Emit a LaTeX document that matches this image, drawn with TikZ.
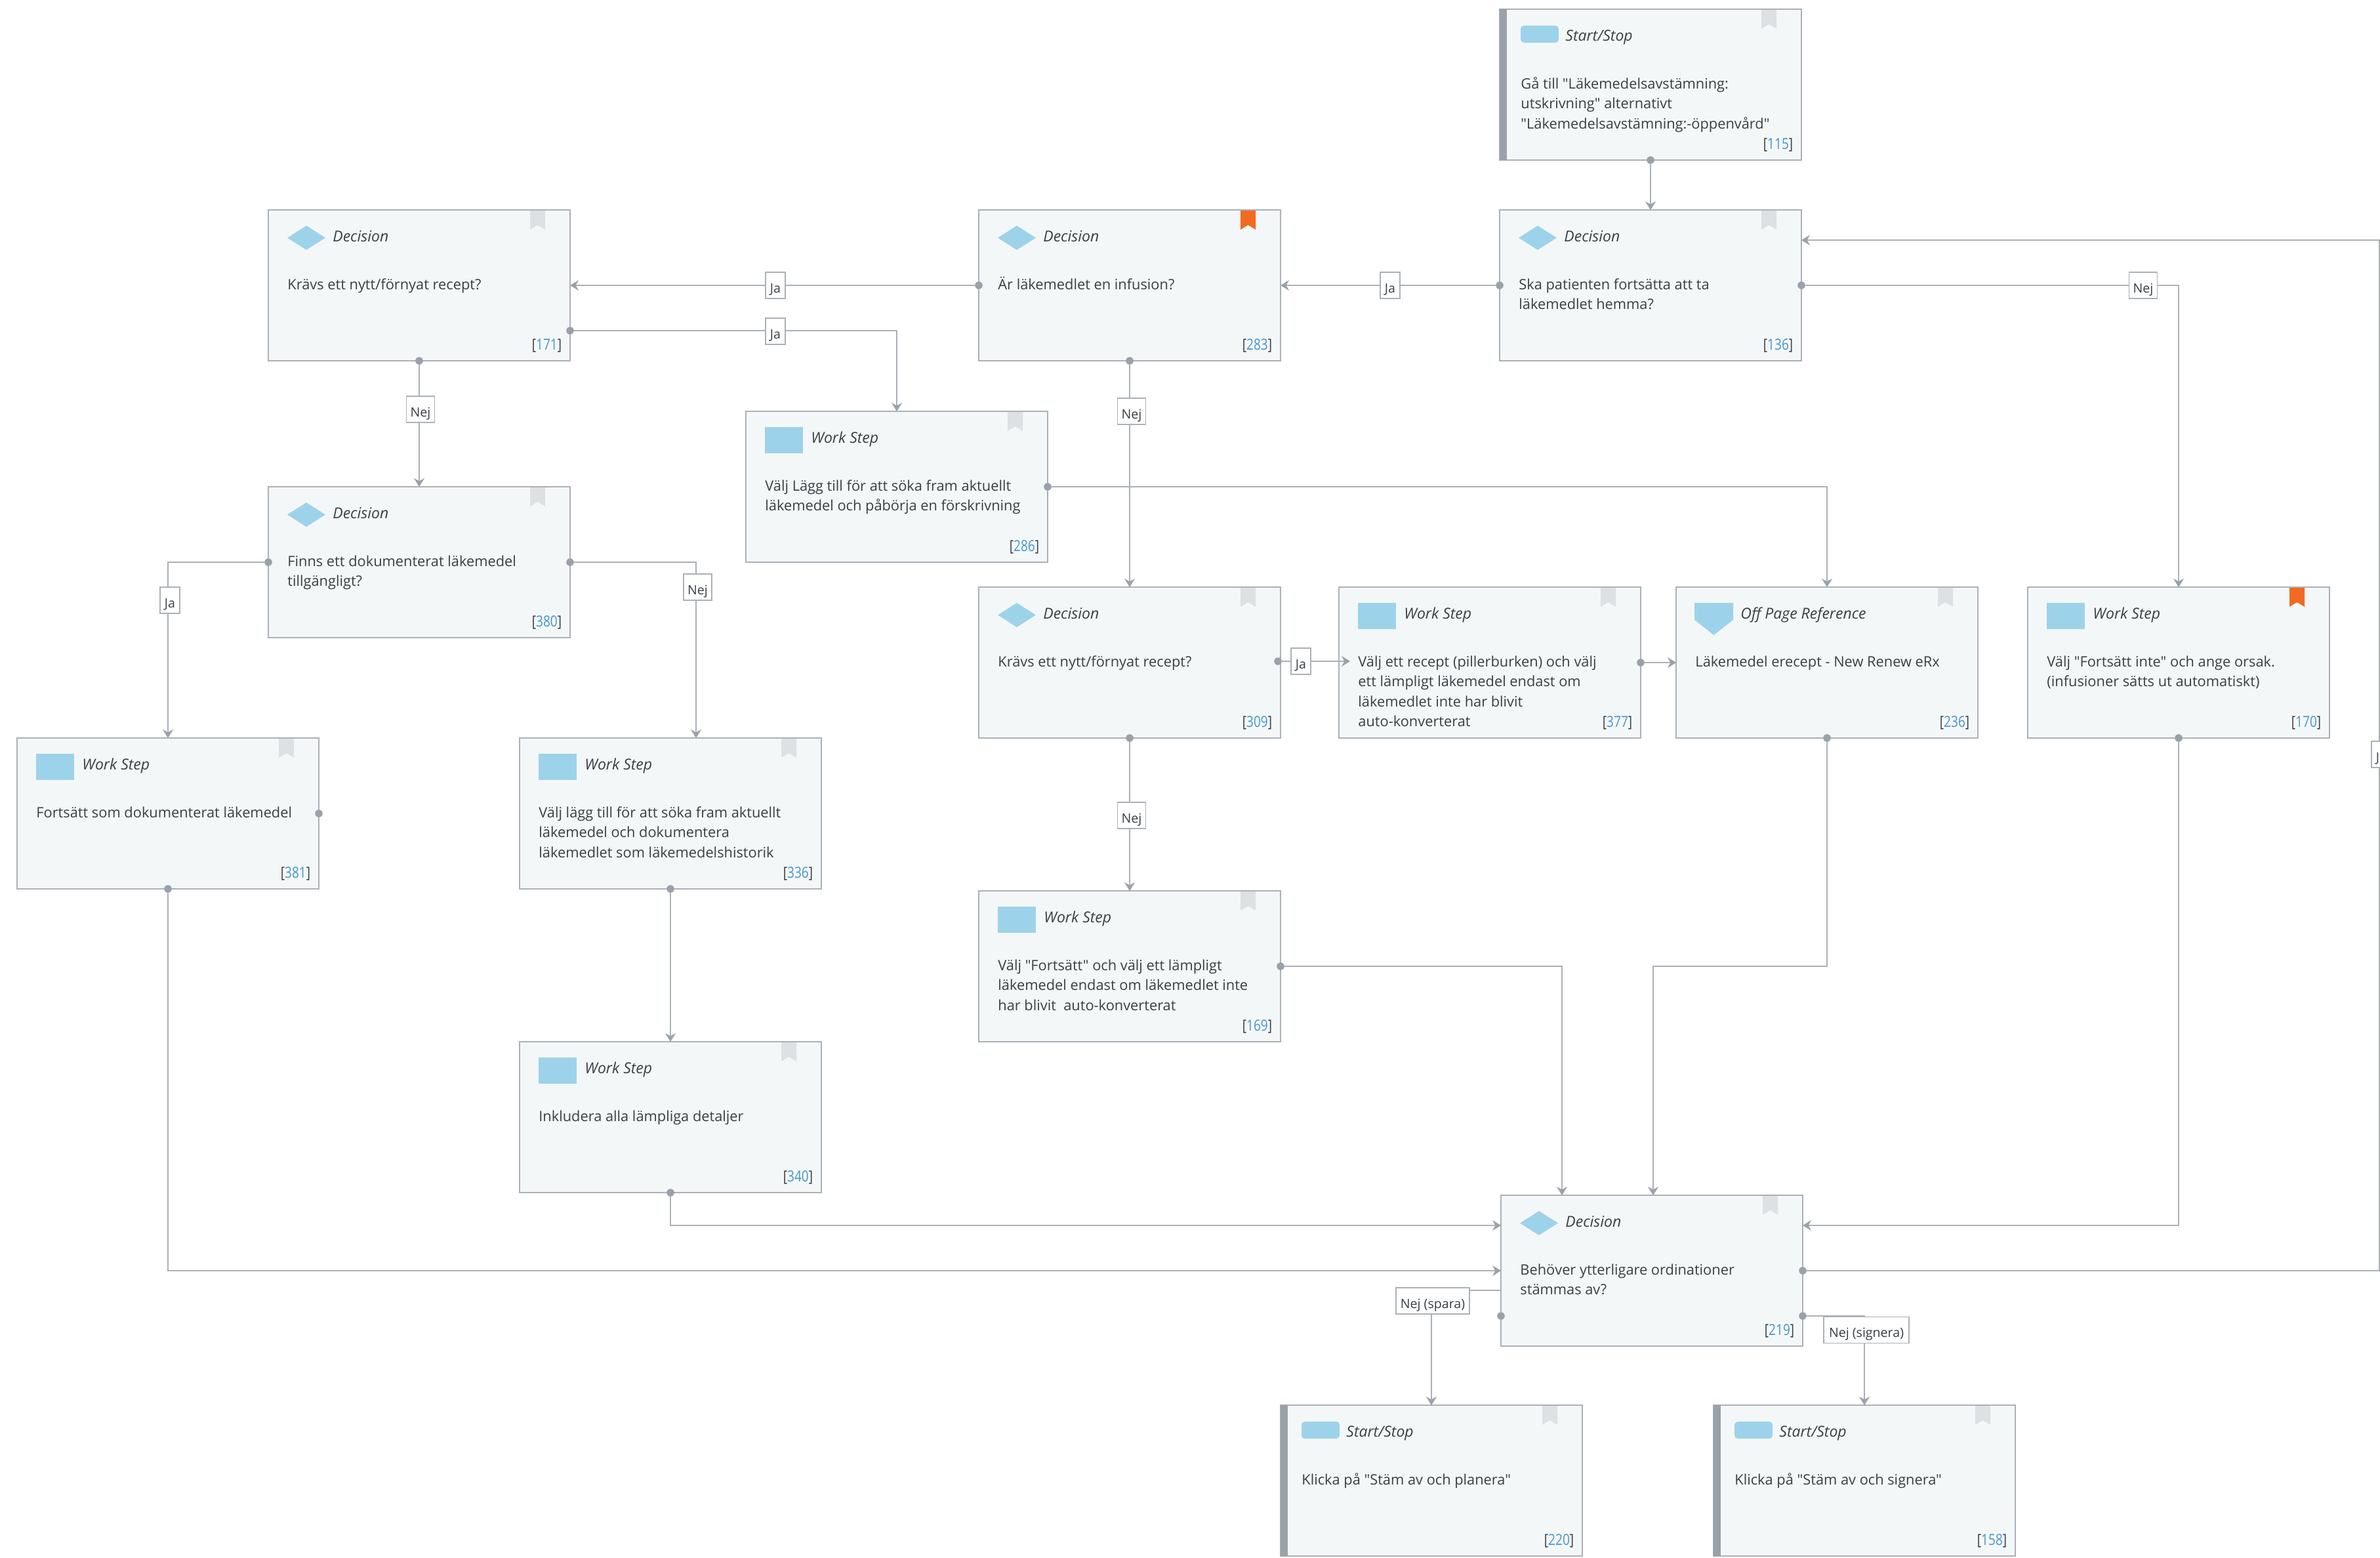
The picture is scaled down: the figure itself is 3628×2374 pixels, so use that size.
\documentclass[tikz,border=0pt]{standalone}
\usepackage{fontspec}
\setmainfont{Open Sans}[Ligatures=TeXOff]
\newfontfamily\idfont{Open Sans}[Ligatures=TeXOff,FakeStretch=0.82]
\usetikzlibrary{arrows.meta}
\definecolor{boxfill}{HTML}{F4F7F8}
\definecolor{edgec}{HTML}{ABB1B7}
\definecolor{dotc}{HTML}{9BA1A8}
\definecolor{iconc}{HTML}{9DD3EA}
\definecolor{markoff}{HTML}{DDE1E4}
\definecolor{markon}{HTML}{F26A21}
\definecolor{inkc}{HTML}{3A3F44}
\definecolor{idc}{HTML}{4596CC}
\tikzset{
  x=0.5pt,y=-0.5pt,
  procbox/.style={draw=edgec,line width=1pt,fill=boxfill,anchor=north west,inner sep=0pt,outer sep=0pt,minimum width=230pt,minimum height=115pt},
  icon/.style={fill=iconc,draw=none},
  startbar/.style={fill=dotc,draw=none},
  headtxt/.style={anchor=base west,inner sep=0pt,text=inkc,font=\fontsize{11.5pt}{13pt}\selectfont\itshape},
  bodytxt/.style={anchor=base west,inner sep=0pt,text=inkc,font=\fontsize{10.9pt}{15.25pt}\selectfont},
  idtxt/.style={anchor=base east,inner sep=0pt,text=inkc,font=\idfont\fontsize{11.6pt}{13pt}\selectfont},
  conn/.style={draw=edgec,line width=1pt,-{Stealth[length=6.5pt,width=8pt,inset=2.2pt,color=dotc]}},
  dotn/.style={circle,fill=dotc,inner sep=0pt,outer sep=0pt,minimum size=5.8pt},
  lab/.style={draw=edgec,line width=0.8pt,fill=white,inner sep=0pt,outer sep=0pt,text=inkc,font=\fontsize{9.8pt}{12pt}\selectfont,minimum height=20pt,text height=15.5pt,text depth=4.5pt},
  labj/.style={lab,minimum width=15pt},
  labn/.style={lab,minimum width=21.5pt},
}
\newcommand\iconDec{\def\lblx{98}\def\bodyx{29}\fill[icon] (29,42.5) -- (58,24) -- (87,42.5) -- (58,61) -- cycle;}
\newcommand\iconWrk{\def\lblx{99}\def\bodyx{29}\fill[icon] (29,24) rectangle (87,64);}
\newcommand\iconSta{\def\lblx{100}\def\bodyx{32}\fill[startbar] (0,0) rectangle (11,230);\fill[icon,rounded corners=2.5pt] (32,25) rectangle (90,51);}
\newcommand\iconOff{\def\lblx{98}\def\bodyx{29}\fill[icon] (28,24) -- (87,24) -- (87,50) -- (57.5,73) -- (28,50) -- cycle;}
% name, x, y, icon, kind, body, id, bookmark colour
\newcommand\wfbox[8]{%
  \begin{scope}[shift={(#2,#3)}]
    \node[procbox] (#1) at (0,0) {};
    #4
    \fill[#8] (399,1) -- (422,1) -- (422,30) -- (410.5,23) -- (399,30) -- cycle;
    \node[headtxt] (#1h) at (\lblx,48) {#5};
    \node[bodytxt] (#1b) at (\bodyx,121) {\parbox[t]{415pt}{\raggedright #6}};
    \node[idtxt] (#1i) at (447.5,213) {[\textcolor{idc}{#7}]};
  \end{scope}}
\begin{document}
\begin{tikzpicture}
\path[use as bounding box,clip] (0,0) rectangle (3628,2374);
\fill[white] (0,0) rectangle (3628,2374);
\wfbox{n115}{2286}{14}{\iconSta}{Start/Stop}{Gå till "Läkemedelsavstämning:\\utskrivning" alternativt\\"Läkemedelsavstämning:-öppenvård"}{115}{markoff}
\wfbox{n136}{2286}{320}{\iconDec}{Decision}{Ska patienten fortsätta att ta\\läkemedlet hemma?}{136}{markoff}
\wfbox{n283}{1492}{320}{\iconDec}{Decision}{Är läkemedlet en infusion?}{283}{markon}
\wfbox{n171}{409}{320}{\iconDec}{Decision}{Krävs ett nytt/förnyat recept?}{171}{markoff}
\wfbox{n286}{1137}{627}{\iconWrk}{Work Step}{Välj Lägg till för att söka fram aktuellt\\läkemedel och påbörja en förskrivning}{286}{markoff}
\wfbox{n380}{409}{742}{\iconDec}{Decision}{Finns ett dokumenterat läkemedel\\tillgängligt?}{380}{markoff}
\wfbox{n309}{1492}{895}{\iconDec}{Decision}{Krävs ett nytt/förnyat recept?}{309}{markoff}
\wfbox{n377}{2041}{895}{\iconWrk}{Work Step}{Välj ett recept (pillerburken) och välj\\ett lämpligt läkemedel endast om\\läkemedlet inte har blivit\\auto-konverterat}{377}{markoff}
\wfbox{n236}{2555}{895}{\iconOff}{Off Page Reference}{Läkemedel erecept - New Renew eRx}{236}{markoff}
\wfbox{n170}{3091}{895}{\iconWrk}{Work Step}{Välj "Fortsätt inte" och ange orsak.\\(infusioner sätts ut automatiskt)}{170}{markon}
\wfbox{n381}{26}{1125}{\iconWrk}{Work Step}{Fortsätt som dokumenterat läkemedel}{381}{markoff}
\wfbox{n336}{792}{1125}{\iconWrk}{Work Step}{Välj lägg till för att söka fram aktuellt\\läkemedel och dokumentera\\läkemedlet som läkemedelshistorik}{336}{markoff}
\wfbox{n169}{1492}{1358}{\iconWrk}{Work Step}{Välj "Fortsätt" och välj ett lämpligt\\läkemedel endast om läkemedlet inte\\har blivit\ \ auto-konverterat}{169}{markoff}
\wfbox{n340}{792}{1588}{\iconWrk}{Work Step}{Inkludera alla lämpliga detaljer}{340}{markoff}
\wfbox{n219}{2288}{1822}{\iconDec}{Decision}{Behöver ytterligare ordinationer\\stämmas av?}{219}{markoff}
\wfbox{n220}{1952}{2142}{\iconSta}{Start/Stop}{Klicka på "Stäm av och planera"}{220}{markoff}
\wfbox{n158}{2612}{2142}{\iconSta}{Start/Stop}{Klicka på "Stäm av och signera"}{158}{markoff}
% free ends and bends
\coordinate (in336) at (1061,1125);
\coordinate (in377) at (2058,1008);
\coordinate (a219) at (2288,1868);
\coordinate (b219) at (2381,1822);
\coordinate (c219) at (2520,1822);
\coordinate (bend236) at (2520,1473);
\coordinate (r219) at (2748,1868);
\coordinate (out1) at (3627,1937);
\coordinate (out2) at (3627,366);
\coordinate (r136) at (2746,366);
\coordinate (sp1) at (2288,1967);
\coordinate (sp2) at (2182,1967);
\coordinate (si1) at (2842,2006);
% output dots
\node[dotn] (d115) at (n115.south) {};
\node[dotn] (d136l) at (n136.west) {};
\node[dotn] (d136r) at (n136.east) {};
\node[dotn] (d283l) at (n283.west) {};
\node[dotn] (d283b) at (n283.south) {};
\node[dotn] (d171r) at (869,504) {};
\node[dotn] (d171b) at (n171.south) {};
\node[dotn] (d286) at (n286.east) {};
\node[dotn] (d380l) at (n380.west) {};
\node[dotn] (d380r) at (n380.east) {};
\node[dotn] (d309r) at (1948,1008) {};
\node[dotn] (d309b) at (n309.south) {};
\node[dotn] (d377) at (n377.east) {};
\node[dotn] (d236) at (n236.south) {};
\node[dotn] (d170) at (n170.south) {};
\node[dotn] (d381r) at (n381.east) {};
\node[dotn] (d381b) at (n381.south) {};
\node[dotn] (d336) at (n336.south) {};
\node[dotn] (d340) at (n340.south) {};
\node[dotn] (d169) at (n169.east) {};
\node[dotn] (d219r) at (n219.east) {};
\node[dotn] (d219l) at (2288,2006) {};
\node[dotn] (d219s) at (2748,2006) {};
% connectors
\draw[conn] (d115) -- (n136.north);
\draw[conn] (d136l) -- (n283.east);
\draw[conn] (d283l) -- (n171.east);
\draw[conn] (d171r) -| (n286.north);
\draw[conn] (d283b) -- (n309.north);
\draw[conn] (d286) -| (n236.north);
\draw[conn] (d136r) -| (n170.north);
\draw[conn] (d171b) -- (n380.north);
\draw[conn] (d380l) -| (n381.north);
\draw[conn] (d380r) -| (in336);
\draw[conn] (d381b) |- (n219.west);
\draw[conn] (d336) -- (n340.north);
\draw[conn] (d340) |- (a219);
\draw[conn] (d309r) -- (in377);
\draw[conn] (d377) -- (n236.west);
\draw[conn] (d309b) -- (n169.north);
\draw[conn] (d169) -| (b219);
\draw[conn] (d236) |- (bend236) -- (c219);
\draw[conn] (d170) |- (r219);
\draw[conn] (d219r) -- (out1) -- (out2) -- (r136);
\draw[conn] (d219l) -- (sp1) -- (sp2) -- (n220.north);
\draw[conn] (d219s) -- (si1) -- (n158.north);
% connector labels
\node[labj] (l1) at (2119,435) {Ja};
\node[labj] (l2) at (1182,435) {Ja};
\node[labj] (l3) at (1182,505) {Ja};
\node[labn] (l4) at (1725,627) {Nej};
\node[labn] (l5) at (3267,435) {Nej};
\node[labn] (l6) at (641,624) {Nej};
\node[labj] (l7) at (259,915) {Ja};
\node[labn] (l8) at (1063.5,895) {Nej};
\node[labj] (l9) at (1983,1008) {Ja};
\node[labn] (l10) at (1725,1243) {Nej};
\node[labj] (l11) at (3630,1150) {Ja};
\node[lab,minimum width=56pt] (l12) at (2184,1983) {Nej (spara)};
\node[lab,minimum width=65pt] (l13) at (2845,2027.5) {Nej (signera)};
\end{tikzpicture}
\end{document}
